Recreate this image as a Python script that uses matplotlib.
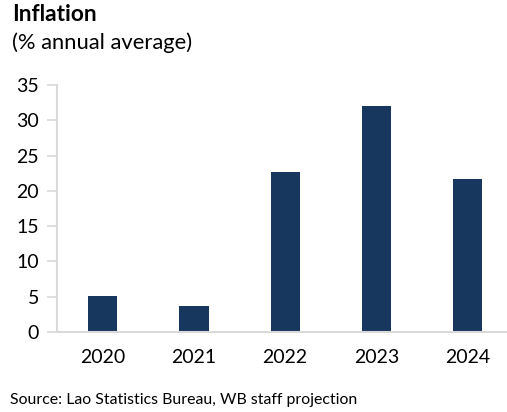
import matplotlib.pyplot as plt

plt.rcParams['font.family'] = ['Lato', 'DejaVu Sans']

years = ['2020', '2021', '2022', '2023', '2024']
inflation = [5.1, 3.7, 22.7, 32.0, 21.7]
yticks = [0, 5, 10, 15, 20, 25, 30, 35]

bar_color = '#17375E'
grey = '#D9D9D9'

fig = plt.figure(figsize=(5.07, 4.12), dpi=100)
W, H = 507, 412
ax = fig.add_axes([57 / W, (H - 332) / H, (507 - 57) / W, (332 - 85) / H])

x = range(len(years))
ax.bar(x, inflation, width=0.32, color=bar_color, zorder=2)

ax.set_xlim(-0.5, 4.43)
ax.set_ylim(0, 35)
ax.set_yticks(yticks)
ax.set_xticks(list(x))
ax.set_xticklabels(years)

for s in ['top', 'right']:
    ax.spines[s].set_visible(False)
for s in ['left', 'bottom']:
    ax.spines[s].set_color(grey)
    ax.spines[s].set_linewidth(1.5)

ax.tick_params(axis='y', length=7, width=1.2, color=grey, labelsize=14, pad=6)
ax.tick_params(axis='x', length=0, labelsize=14, pad=12)

fig.text(12 / W, 1 - 4 / H, 'Inflation', fontsize=16.3, fontweight='bold', va='top', ha='left')
fig.text(12 / W, 1 - 32 / H, '(% annual average)', fontsize=15.8, va='top', ha='left')
fig.text(10 / W, 1 - 393 / H, 'Source: Lao Statistics Bureau, WB staff projection',
         fontsize=11.4, va='top', ha='left')

fig.savefig('out.png', dpi=100)
